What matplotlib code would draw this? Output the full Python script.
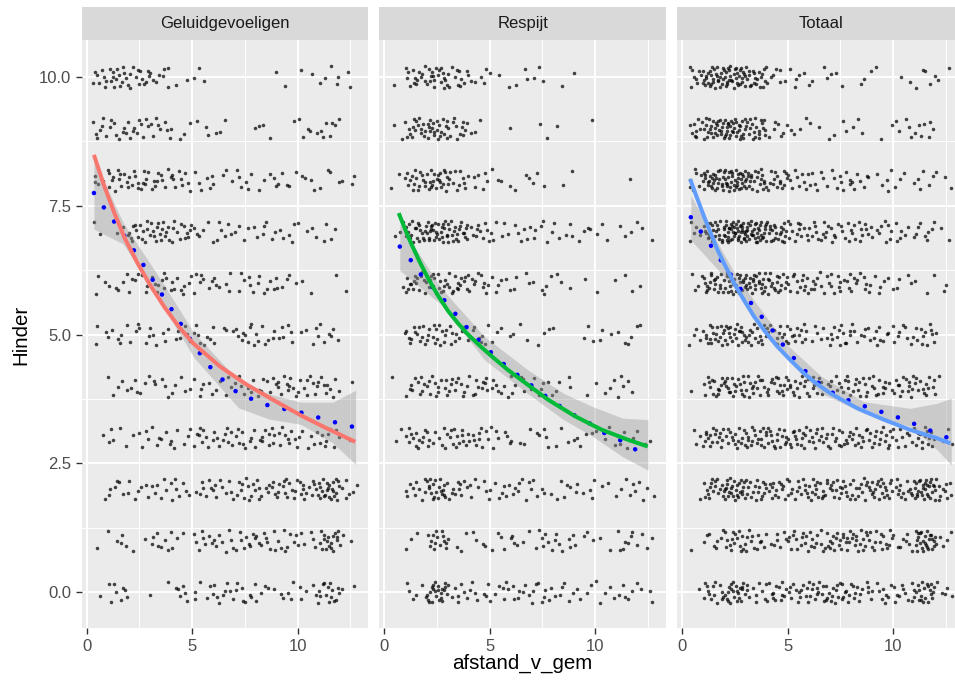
import numpy as np
import matplotlib
matplotlib.use("Agg")
import matplotlib.pyplot as plt
from matplotlib.patches import Rectangle

plt.rcParams['font.family'] = ['Liberation Sans', 'DejaVu Sans']

# facets
panels = ['Geluidgevoeligen', 'Respijt', 'Totaal']
fit_colors = ['#F8766D', '#00BA38', '#619CFF']

# Hinder scores (rows of jittered points) and distance bins (afstand_v_gem)
levels = [0, 1, 2, 3, 4, 5, 6, 7, 8, 9, 10]
bin_edges = [0.3, 1, 2, 3, 4, 5, 6, 7, 8, 9, 10, 11, 12, 12.8]

# number of respondents per Hinder score (row) and distance bin (column)
counts_geluid = [
    [1, 8, 0, 2, 6, 6, 8, 8, 5, 5, 6, 14, 2],
    [1, 5, 2, 8, 3, 8, 8, 9, 9, 8, 6, 18, 2],
    [1, 7, 6, 7, 7, 7, 9, 11, 10, 13, 12, 22, 6],
    [1, 5, 5, 6, 6, 9, 9, 9, 10, 9, 6, 9, 1],
    [0, 5, 6, 5, 5, 6, 5, 7, 8, 10, 10, 8, 1],
    [3, 6, 6, 6, 6, 8, 4, 9, 7, 6, 5, 6, 0],
    [3, 5, 7, 9, 8, 7, 6, 6, 7, 5, 2, 1, 1],
    [2, 3, 14, 14, 12, 6, 6, 5, 6, 5, 4, 4, 0],
    [6, 12, 12, 10, 9, 6, 4, 6, 5, 5, 4, 4, 3],
    [7, 9, 9, 8, 4, 3, 3, 1, 3, 1, 5, 7, 0],
    [8, 14, 12, 8, 2, 3, 0, 0, 1, 1, 2, 5, 2],
]
counts_respijt = [
    [0, 6, 22, 8, 7, 7, 8, 8, 6, 4, 5, 6, 3],
    [0, 3, 14, 4, 4, 5, 5, 7, 7, 4, 2, 8, 3],
    [0, 10, 20, 10, 7, 7, 8, 5, 5, 6, 2, 6, 4],
    [2, 12, 10, 12, 10, 7, 4, 5, 4, 4, 4, 6, 2],
    [1, 10, 12, 10, 10, 8, 6, 6, 4, 1, 4, 5, 0],
    [1, 12, 14, 10, 8, 4, 3, 3, 1, 3, 3, 5, 1],
    [1, 15, 16, 14, 10, 6, 4, 5, 3, 1, 2, 2, 1],
    [3, 20, 25, 20, 10, 6, 6, 6, 5, 4, 3, 4, 2],
    [2, 16, 20, 12, 6, 4, 3, 3, 2, 0, 0, 1, 0],
    [2, 16, 20, 12, 3, 1, 0, 2, 1, 1, 0, 0, 0],
    [1, 14, 18, 12, 5, 3, 3, 3, 2, 0, 0, 0, 0],
]
counts_totaal = [
    [1, 14, 22, 10, 13, 13, 16, 16, 11, 9, 11, 20, 5],
    [1, 8, 16, 12, 7, 13, 13, 16, 16, 12, 8, 26, 5],
    [1, 17, 26, 17, 14, 14, 17, 16, 15, 19, 14, 28, 10],
    [3, 17, 15, 18, 16, 16, 13, 14, 14, 13, 10, 15, 3],
    [1, 15, 18, 15, 15, 14, 11, 13, 12, 11, 14, 13, 1],
    [4, 18, 20, 16, 14, 12, 7, 12, 8, 9, 8, 11, 1],
    [4, 20, 23, 23, 18, 13, 10, 11, 10, 6, 4, 3, 2],
    [5, 23, 39, 34, 22, 12, 12, 11, 11, 9, 7, 8, 2],
    [8, 28, 32, 22, 15, 10, 7, 9, 7, 5, 4, 5, 3],
    [9, 25, 29, 20, 7, 4, 3, 3, 3, 2, 5, 7, 0],
    [9, 28, 30, 20, 7, 6, 3, 3, 3, 1, 2, 5, 2],
]

# solid model fit per facet
fit_x_geluid = [0.35, 0.8, 1.3, 1.8, 2.4, 3.0, 3.7, 4.4, 5.06, 6.33, 7.59, 8.86, 10.12, 11.39, 12.73]
fit_y_geluid = [8.49, 7.93, 7.38, 6.88, 6.40, 5.97, 5.53, 5.14, 4.83, 4.38, 4.03, 3.73, 3.44, 3.18, 2.92]
fit_x_respijt = [0.69, 1.0, 1.29, 1.7, 2.1, 2.55, 3.03, 3.5, 3.98, 4.6, 5.24, 5.85, 6.5, 7.76, 9.03,
                 10.28, 11.55, 12.49]
fit_y_respijt = [7.36, 7.04, 6.76, 6.40, 6.08, 5.76, 5.46, 5.22, 5.00, 4.76, 4.53, 4.32, 4.12, 3.74, 3.42,
                 3.16, 2.96, 2.83]
fit_x_totaal = [0.38, 0.7, 1.04, 1.67, 2.0, 2.46, 2.9, 3.41, 3.95, 4.51, 5.1, 5.77, 6.4, 7.03, 8.30,
                9.56, 10.82, 12.08, 12.71]
fit_y_totaal = [8.02, 7.66, 7.29, 6.65, 6.37, 6.00, 5.69, 5.35, 5.05, 4.77, 4.52, 4.25, 4.04, 3.86, 3.57,
                3.35, 3.15, 2.99, 2.89]

# loess (dotted) per facet
loess_x_geluid = [0.35, 0.82, 1.74, 2.61, 3.43, 4.27, 5.11, 6.03, 7.21, 8.65, 10.15, 11.67, 12.42, 12.75]
loess_y_geluid = [7.75, 7.47, 6.95, 6.41, 5.87, 5.34, 4.78, 4.28, 3.85, 3.62, 3.49, 3.31, 3.23, 3.20]
loess_x_respijt = [0.74, 1.22, 1.69, 2.71, 3.74, 4.76, 5.80, 6.80, 7.80, 8.80, 9.73, 10.44, 11.15, 11.78, 12.46]
loess_y_respijt = [6.71, 6.47, 6.19, 5.74, 5.22, 4.77, 4.38, 4.07, 3.76, 3.48, 3.28, 3.09, 2.96, 2.80, 2.65]
loess_x_totaal = [0.41, 0.85, 1.31, 2.62, 3.09, 3.56, 4.07, 4.98, 5.50, 6.04, 6.63, 7.29, 7.98, 8.72,
                  10.19, 10.93, 11.64, 12.35, 12.75]
loess_y_totaal = [7.28, 7.02, 6.76, 5.97, 5.71, 5.45, 5.20, 4.69, 4.45, 4.20, 4.01, 3.83, 3.71, 3.60,
                  3.40, 3.28, 3.16, 3.03, 2.98]

# confidence band of the loess
band_x_geluid = [0.35, 0.82, 1.74, 3.43, 5.10, 7.20, 8.65, 10.15, 11.67, 12.75]
band_lo_geluid = [7.05, 6.95, 6.76, 5.68, 4.55, 3.58, 3.36, 3.26, 2.90, 2.48]
band_hi_geluid = [8.38, 7.98, 7.17, 6.12, 5.03, 4.11, 3.85, 3.69, 3.69, 3.92]
band_x_respijt = [0.74, 2.71, 4.76, 6.80, 8.50, 9.90, 11.30, 12.50]
band_lo_respijt = [6.25, 5.58, 4.51, 3.86, 3.35, 3.02, 2.63, 2.37]
band_hi_respijt = [7.15, 5.90, 4.96, 4.32, 3.86, 3.60, 3.38, 3.35]
band_x_totaal = [0.41, 2.62, 4.98, 6.60, 8.60, 10.80, 12.10, 12.75]
band_lo_totaal = [6.84, 5.84, 4.51, 3.86, 3.48, 3.22, 2.76, 2.47]
band_hi_totaal = [7.70, 6.10, 4.80, 4.19, 3.70, 3.57, 3.67, 3.77]

counts = [counts_geluid, counts_respijt, counts_totaal]
fits = [(fit_x_geluid, fit_y_geluid), (fit_x_respijt, fit_y_respijt), (fit_x_totaal, fit_y_totaal)]
loess = [(loess_x_geluid, loess_y_geluid), (loess_x_respijt, loess_y_respijt),
         (loess_x_totaal, loess_y_totaal)]
bands = [(band_x_geluid, band_lo_geluid, band_hi_geluid),
         (band_x_respijt, band_lo_respijt, band_hi_respijt),
         (band_x_totaal, band_lo_totaal, band_hi_totaal)]


def vdc(n, base):
    # van der Corput sequence, used as a fixed jitter layout
    q, denom = 0.0, 1.0
    while n:
        denom *= base
        n, r = divmod(n, base)
        q += r / denom
    return q


W, H = 955, 684
fig = plt.figure(figsize=(W / 100, H / 100), dpi=100)
fig.patch.set_facecolor('white')

top_px, bot_px = 40, 628.3
lefts_px = [81.7, 379.3, 677.3]
width_px = 286.6
strip_px = 32.7

k = 1  # running index for the jitter layout
for i, name in enumerate(panels):
    ax = fig.add_axes([lefts_px[i] / W, (H - bot_px) / H, width_px / W, (bot_px - top_px) / H])
    ax.set_facecolor('#EBEBEB')
    for s in ax.spines.values():
        s.set_visible(False)

    # jittered points
    xs, ys = [], []
    for r, lev in enumerate(levels):
        for b in range(len(bin_edges) - 1):
            a0, a1 = bin_edges[b], bin_edges[b + 1]
            for j in range(counts[i][r][b]):
                u = vdc(k, 2)
                v = vdc(k, 3)
                xs.append(a0 + (a1 - a0) * u)
                ys.append(lev + (v - 0.5) * 0.42)
                k += 7
    ax.scatter(xs, ys, s=6.5, color='black', alpha=0.72, linewidths=0, zorder=2)

    bx, blo, bhi = bands[i]
    ax.fill_between(bx, blo, bhi, color='#999999', alpha=0.4, linewidth=0, zorder=3)
    lx, ly = loess[i]
    ax.plot(lx, ly, color='blue', lw=3.3, linestyle=(0, (0.01, 3.8)),
            dash_capstyle='round', zorder=4)
    fx, fy = fits[i]
    ax.plot(fx, fy, color=fit_colors[i], lw=2.9, solid_capstyle='butt',
            solid_joinstyle='round', zorder=5)

    ax.set_xlim(-0.23, 13.35)
    ax.set_ylim(-0.70, 10.72)
    ax.set_xticks([0, 5, 10])
    ax.set_xticks([2.5, 7.5, 12.5], minor=True)
    ax.set_yticks([0, 2.5, 5, 7.5, 10])
    ax.set_yticks([1.25, 3.75, 6.25, 8.75], minor=True)
    ax.set_yticklabels(['0.0', '2.5', '5.0', '7.5', '10.0'])
    ax.grid(which='major', color='white', lw=1.4, zorder=0)
    ax.grid(which='minor', color='white', lw=0.7, zorder=0)
    ax.set_axisbelow(True)
    ax.tick_params(which='major', length=4, width=1.0, color='#333333',
                   labelsize=12, labelcolor='#4D4D4D', pad=3.5)
    ax.tick_params(which='minor', length=0)
    if i > 0:
        ax.tick_params(axis='y', which='major', length=0, labelleft=False)

    # facet strip
    sh = strip_px / (bot_px - top_px)
    ax.add_patch(Rectangle((0, 1), 1, sh, transform=ax.transAxes, facecolor='#D9D9D9',
                           edgecolor='none', clip_on=False))
    ax.text(0.5, 1 + sh / 2, name, transform=ax.transAxes, ha='center', va='center',
            fontsize=12, color='#1A1A1A')

fig.text(21 / W, 1 - 335 / H, 'Hinder', rotation=90, ha='center', va='center',
         fontsize=14.8, color='black')
fig.text(522 / W, (H - 668.5) / H, 'afstand_v_gem', ha='center', va='baseline',
         fontsize=14.8, color='black')

fig.savefig('out.png', dpi=100)
